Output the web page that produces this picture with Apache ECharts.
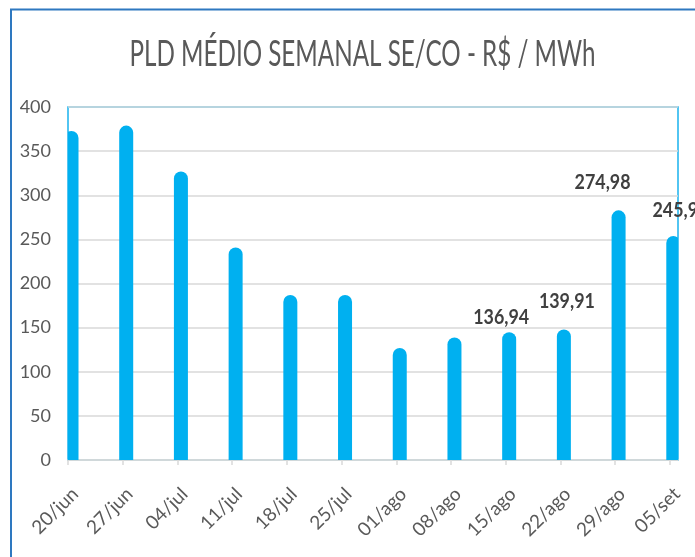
<!DOCTYPE html>
<html>
<head>
<meta charset="utf-8">
<script src="https://cdn.jsdelivr.net/npm/echarts@6/dist/echarts.min.js"></script>
<style>
  html, body { margin: 0; padding: 0; background: #fff; }
  #chart { width: 695px; height: 557px; }
</style>
</head>
<body>
<div id="chart"></div>
<script>
// semanas
var semanas = ['20/jun', '27/jun', '04/jul', '11/jul', '18/jul', '25/jul', '01/ago', '08/ago', '15/ago', '22/ago', '29/ago', '05/set'];
// PLD médio semanal SE/CO (R$/MWh)
var pld = [365, 371, 319, 233, 179, 179, 119, 131, 136.94, 139.91, 274.98, 245.9];
// rótulos que aparecem no gráfico
var rotulos = ['', '', '', '', '', '', '', '', '136,94', '139,91', '274,98', '245,9'];
var titulo = 'PLD MÉDIO SEMANAL SE/CO - R$ / MWh';

var FONT = 'Lato, "Open Sans", sans-serif';
// deslocamento manual dos rótulos (px), como no original
var rotuloDx = { 8: -8, 9: 3, 10: -16, 11: 2 };
var rotuloDy = { 8: 15, 9: 28, 10: 28, 11: 26 };

// fonte estreita (tipo Calibri) -> comprime na horizontal
function larguraTexto(txt, font) {
  var ctx = document.createElement('canvas').getContext('2d');
  ctx.font = font;
  return ctx.measureText(txt).width;
}
var fonteRotulo = 'bold 21px ' + FONT;
var escalaRotulo = 56 / larguraTexto('274,98', fonteRotulo);
var fonteTitulo = 'normal 37px ' + FONT;
var escalaTitulo = 466 / larguraTexto(titulo, fonteTitulo);

var idx = semanas.map(function (s, i) { return i; });

function renderBar(params, api) {
  var i = params.dataIndex;
  var top = api.coord([api.value(0), api.value(1)]);
  var base = api.coord([api.value(0), 0]);
  var cs = params.coordSys;
  var r = 7;
  var cx = top[0] + 3.5;
  var children = [{
    type: 'rect',
    shape: { x: cx - r, y: top[1] - r, width: 2 * r, height: base[1] - top[1] + r, r: [r, r, 0, 0] },
    style: { fill: '#00B0F0' },
    clipPath: { type: 'rect', shape: { x: cs.x, y: cs.y - 20, width: cs.width, height: cs.height + 20 } }
  }];
  if (rotulos[i]) {
    children.push({
      type: 'text',
      x: cx + rotuloDx[i],
      y: top[1] - r - rotuloDy[i],
      scaleX: escalaRotulo,
      style: {
        text: rotulos[i],
        textAlign: 'center',
        textVerticalAlign: 'middle',
        font: fonteRotulo,
        fill: '#404040'
      }
    });
  }
  return { type: 'group', children: children };
}

var myChart = echarts.init(document.getElementById('chart'), null, { renderer: 'canvas' });

var option = {
  backgroundColor: '#fff',
  animation: false,
  graphic: [{
    type: 'rect',
    shape: { x: 11, y: 9.5, width: 800, height: 700 },
    style: { fill: 'none', stroke: '#2E78C0', lineWidth: 2 },
    silent: true
  }, {
    type: 'text',
    x: 362.5,
    y: 54,
    scaleX: escalaTitulo,
    style: {
      text: titulo,
      textAlign: 'center',
      textVerticalAlign: 'middle',
      font: fonteTitulo,
      fill: '#595959'
    },
    silent: true
  }],
  grid: {
    left: 68, right: 17, top: 107, bottom: 97,
    show: true, borderColor: '#1AB2EE', borderWidth: 1.5,
    containLabel: false
  },
  xAxis: {
    type: 'value',
    min: 0, max: 11.15, interval: 1,
    splitLine: { show: false },
    axisLine: { lineStyle: { color: '#D9D9D9', width: 1.5 } },
    axisTick: { show: true, length: 5, customValues: idx, lineStyle: { color: '#D9D9D9', width: 1.5 } },
    axisLabel: {
      customValues: idx,
      formatter: function (v) { return semanas[Math.round(v)]; },
      rotate: 45, margin: 38, padding: [0, -10, 0, 0],
      color: '#595959', fontSize: 19, fontFamily: FONT
    }
  },
  yAxis: {
    type: 'value',
    min: 0, max: 400, interval: 50,
    axisLine: { show: false },
    axisTick: { show: false },
    axisLabel: { margin: 17, color: '#595959', fontSize: 18, fontFamily: FONT },
    splitLine: { lineStyle: { color: '#D9D9D9', width: 1.5 } }
  },
  series: [{
    name: 'PLD',
    type: 'custom',
    renderItem: renderBar,
    encode: { x: 0, y: 1 },
    data: pld.map(function (v, i) { return [i, v]; })
  }]
};

myChart.setOption(option);
</script>
</body>
</html>
